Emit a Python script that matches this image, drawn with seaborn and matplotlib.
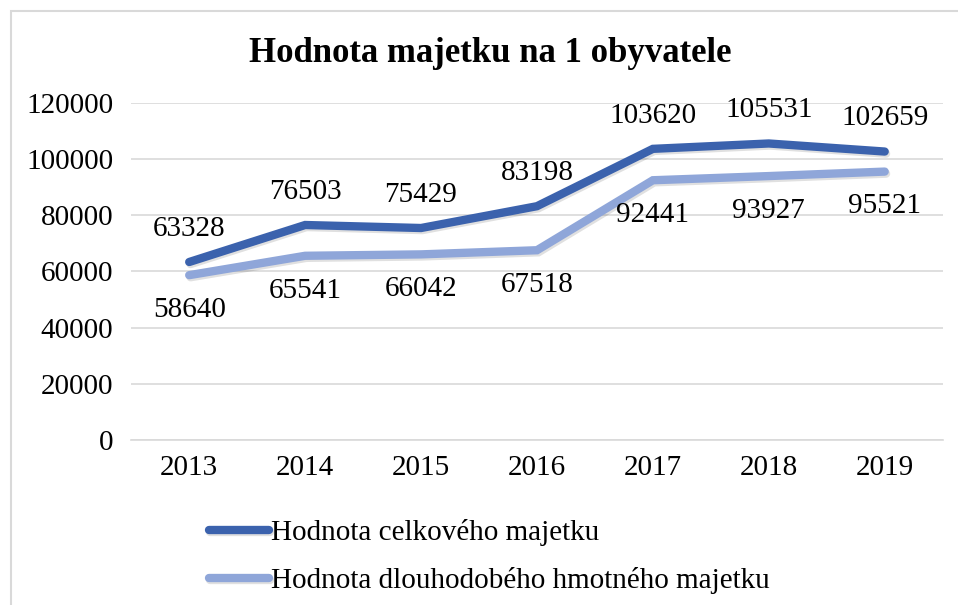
import pandas as pd
import matplotlib
matplotlib.use("Agg")
import matplotlib.pyplot as plt
import matplotlib.patheffects as pe
import seaborn as sns

# data
years = ["2013", "2014", "2015", "2016", "2017", "2018", "2019"]
celkovy = [63328, 76503, 75429, 83198, 103620, 105531, 102659]
dlouhodoby = [58640, 65541, 66042, 67518, 92441, 93927, 95521]
series_names = ["Hodnota celkového majetku", "Hodnota dlouhodobého hmotného majetku"]
yticks = [0, 20000, 40000, 60000, 80000, 100000, 120000]

df = pd.DataFrame({
    "rok": years * 2,
    "hodnota": celkovy + dlouhodoby,
    "serie": [series_names[0]] * len(years) + [series_names[1]] * len(years),
})

sns.set_theme(style="white")
plt.rcParams["font.family"] = ["Liberation Serif", "DejaVu Serif"]
plt.rcParams["text.color"] = "black"

barvy = {series_names[0]: "#3b62ad", series_names[1]: "#8fa6d9"}
stin = [pe.SimpleLineShadow(offset=(1, -1.5), alpha=0.12, shadow_color="black"), pe.Normal()]

fig = plt.figure(figsize=(9.58, 6.05), dpi=100)
ax = fig.add_axes([0.137, 0.273, 0.847, 0.557])

sns.lineplot(data=df, x="rok", y="hodnota", hue="serie", palette=barvy,
             linewidth=6, ax=ax, sort=False, legend=True)

for line in ax.lines:
    line.set_solid_capstyle("round")
    line.set_solid_joinstyle("miter")
    line.set_path_effects(stin)

# popisky hodnot
for i, v in enumerate(celkovy):
    ax.annotate(str(v), (i, v), xytext=(0, 24), textcoords="offset points",
                ha="center", va="center", fontsize=21, color="black")
for i, v in enumerate(dlouhodoby):
    ax.annotate(str(v), (i, v), xytext=(0, -25), textcoords="offset points",
                ha="center", va="center", fontsize=21, color="black")

ax.set_xlim(-0.5, len(years) - 0.5)
ax.set_ylim(0, 120000)
ax.set_yticks(yticks)
ax.set_yticklabels([str(t) for t in yticks])
ax.tick_params(axis="both", labelsize=21, length=0, colors="black")
ax.tick_params(axis="y", pad=13)
ax.tick_params(axis="x", pad=11)
ax.yaxis.grid(True, color="#d9d9d9", linewidth=1.2)
ax.set_axisbelow(True)
for s in ["top", "right", "left"]:
    ax.spines[s].set_visible(False)
ax.spines["bottom"].set_color("#d9d9d9")
ax.spines["bottom"].set_linewidth(1.2)
ax.set_xlabel("")
ax.set_ylabel("")

fig.text(0.512, 0.912, "Hodnota majetku na 1 obyvatele", ha="center", va="center",
         fontsize=25, fontweight="bold", color="black")

handles, labels = ax.get_legend_handles_labels()
for h in handles:
    h.set_linewidth(6)
    h.set_solid_capstyle("round")
    h.set_path_effects(stin)
leg = ax.legend(handles, labels, loc="upper left", bbox_to_anchor=(0.218, 0.142),
                bbox_transform=fig.transFigure, frameon=False, fontsize=21,
                handlelength=2.05, handletextpad=0.08, labelspacing=0.72,
                borderpad=0, borderaxespad=0)
for t in leg.get_texts():
    t.set_color("black")

# ramecek grafu
fig.patches.append(plt.Rectangle((0.011, -0.1), 1.2, 1.082, transform=fig.transFigure,
                                 fill=False, edgecolor="#d9d9d9", linewidth=1.5))

fig.savefig("out.png", dpi=100)
